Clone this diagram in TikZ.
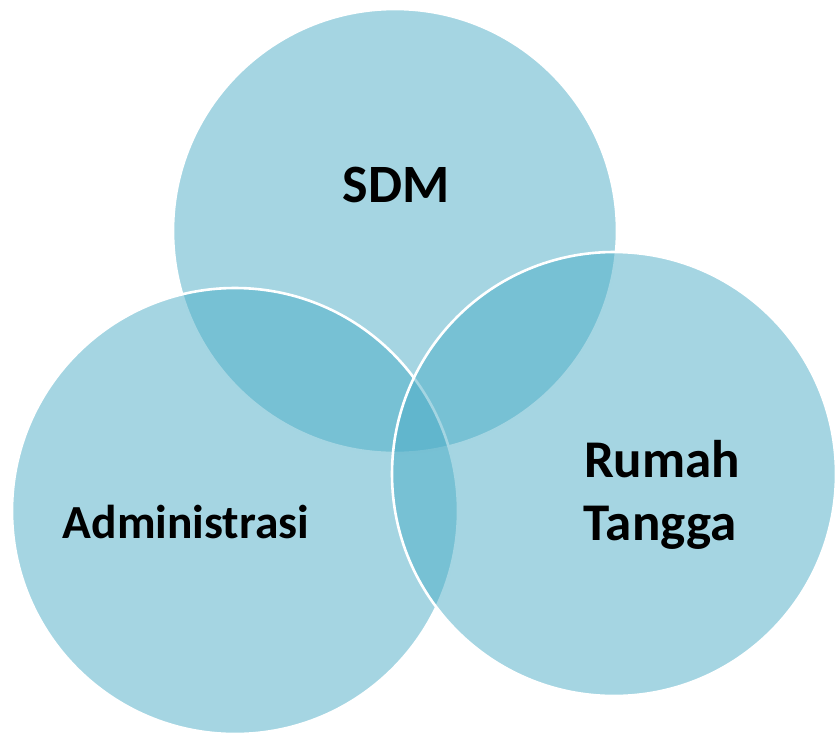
\documentclass[tikz,border=0pt]{standalone}
\usepackage{fontspec}
\setmainfont{Carlito}
\begin{document}
\begin{tikzpicture}[x=1pt,y=-1pt,
  venn/.style={fill={rgb,255:red,75;green,172;blue,198},fill opacity=0.5,draw=white,line width=2.6pt},
  lbl/.style={text=black,anchor=base,inner sep=0pt}]
\useasboundingbox (0,0) rectangle (837,734);
\path[venn] (395,231) circle[radius=222] coordinate (ctop);
\path[venn] (235,511) circle[radius=223] coordinate (cleft);
\path[venn] (614,474) circle[radius=222] coordinate (cright);
\node[lbl,font=\bfseries\fontsize{54}{60}\selectfont] (sdm) at (396,202) {SDM};
\node[lbl,font=\bfseries\fontsize{47.5}{60}\selectfont] (adm) at (186,538) {Administrasi};
\node[lbl,font=\bfseries\fontsize{53}{63}\selectfont] (rumah) at (662,477) {Rumah};
\node[lbl,font=\bfseries\fontsize{53}{63}\selectfont] (tangga) at (660,540) {Tangga};
\end{tikzpicture}
\end{document}
